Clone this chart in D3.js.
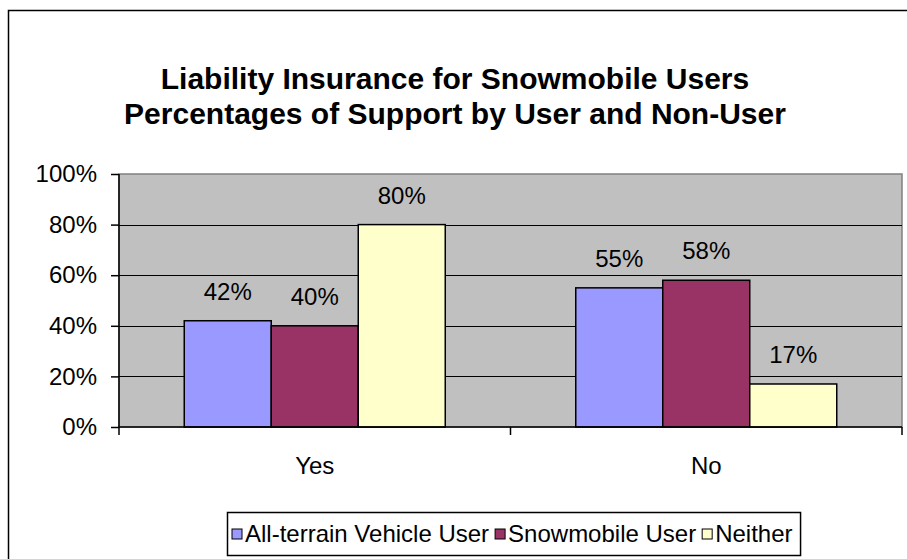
<!DOCTYPE html>
<html><head><meta charset="utf-8">
<script src="https://cdn.jsdelivr.net/npm/d3@7"></script>
<style>body{margin:0;background:#fff}svg{display:block;font-family:Arial,"Liberation Sans",sans-serif}</style>
</head><body><svg id="c" width="907" height="559"></svg>
<script>
const categories = ["Yes", "No"];
const seriesNames = ["All-terrain Vehicle User", "Snowmobile User", "Neither"];
const seriesColors = ["#9999FF", "#993366", "#FFFFCC"];
const atvValues = [42, 55];
const snowmobileValues = [40, 58];
const neitherValues = [80, 17];
const yTicks = [0, 20, 40, 60, 80, 100];
const titleLines = ["Liability Insurance for Snowmobile Users", "Percentages of Support by User and Non-User"];

const series = [atvValues, snowmobileValues, neitherValues];
const svg = d3.select("#c");

// outer frame
svg.append("rect").attr("x", 8.5).attr("y", 10.5).attr("width", 920).attr("height", 600)
  .attr("fill", "#fff").attr("stroke", "#000").attr("stroke-width", 1.5);

// title
const title = svg.append("text").attr("text-anchor", "middle").attr("font-weight", "bold")
  .attr("font-size", 30).attr("fill", "#000");
titleLines.forEach((t, i) => title.append("tspan").attr("x", 455).attr("y", 89 + i * 35).text(t));

const L = 119, R = 902, T = 174, B = 427;
const x0 = d3.scaleBand().domain(categories).range([L, R]).paddingInner(0).paddingOuter(0);
const bw = x0.bandwidth() / 4.5;
const y = d3.scaleLinear().domain([0, 100]).range([B, T]);

// plot area
svg.append("rect").attr("x", L).attr("y", T).attr("width", R - L).attr("height", B - T)
  .attr("fill", "#C0C0C0").attr("stroke", "#808080").attr("stroke-width", 1.5);

// gridlines
svg.append("g").selectAll("line").data(yTicks.filter(d => d > 0 && d < 100)).join("line")
  .attr("x1", L).attr("x2", R).attr("y1", d => Math.round(y(d)) + 0.5).attr("y2", d => Math.round(y(d)) + 0.5)
  .attr("stroke", "#000").attr("stroke-width", 1);

// bars
categories.forEach((c, ci) => {
  series.forEach((s, si) => {
    const bx = x0(c) + bw * 0.75 + si * bw;
    svg.append("rect").attr("x", bx).attr("y", y(s[ci])).attr("width", bw).attr("height", B - y(s[ci]))
      .attr("fill", seriesColors[si]).attr("stroke", "#000").attr("stroke-width", 1.5);
    svg.append("text").attr("x", bx + bw / 2).attr("y", y(s[ci]) - 21).attr("text-anchor", "middle")
      .attr("font-size", 24).attr("fill", "#000").text(s[ci] + "%");
  });
});

// y axis
const yAxis = d3.axisLeft(y).tickValues(yTicks).tickFormat(d => d + "%").tickSize(8).tickPadding(14);
const ya = svg.append("g").attr("transform", `translate(${L},0)`).call(yAxis);
ya.select(".domain").attr("stroke", "#000").attr("stroke-width", 1.5).attr("d", `M0,${T}V${B}`);
ya.selectAll(".tick line").attr("stroke", "#000").attr("stroke-width", 1.5);
ya.selectAll(".tick text").attr("font-size", 24).attr("font-family", "Arial, 'Liberation Sans', sans-serif").attr("fill", "#000");

// x axis
const xAxis = d3.axisBottom(x0).tickSize(0).tickPadding(30);
const xa = svg.append("g").attr("transform", `translate(0,${B})`).call(xAxis);
xa.select(".domain").attr("stroke", "#000").attr("stroke-width", 1.5).attr("d", `M${L},0H${R}`);
xa.selectAll(".tick text").attr("font-size", 24).attr("font-family", "Arial, 'Liberation Sans', sans-serif").attr("fill", "#000");
// category boundary ticks
svg.append("g").selectAll("line").data([L, x0("No"), R]).join("line")
  .attr("x1", d => d).attr("x2", d => d).attr("y1", B).attr("y2", B + 8)
  .attr("stroke", "#000").attr("stroke-width", 1.5);

// legend
const lg = svg.append("g");
const box = lg.append("rect").attr("y", 512.5).attr("height", 43).attr("fill", "#fff")
  .attr("stroke", "#000").attr("stroke-width", 1.5);
let cx = 232;
seriesNames.forEach((n, i) => {
  lg.append("rect").attr("x", cx).attr("y", 529).attr("width", 10).attr("height", 10)
    .attr("fill", seriesColors[i]).attr("stroke", "#000").attr("stroke-width", 1);
  const t = lg.append("text").attr("x", cx + 13).attr("y", 542).attr("font-size", 24).attr("fill", "#000").text(n);
  cx += 13 + t.node().getComputedTextLength() + 6;
});
box.attr("x", 227.5).attr("width", cx - 227.5 + 2);
</script>
</body></html>
